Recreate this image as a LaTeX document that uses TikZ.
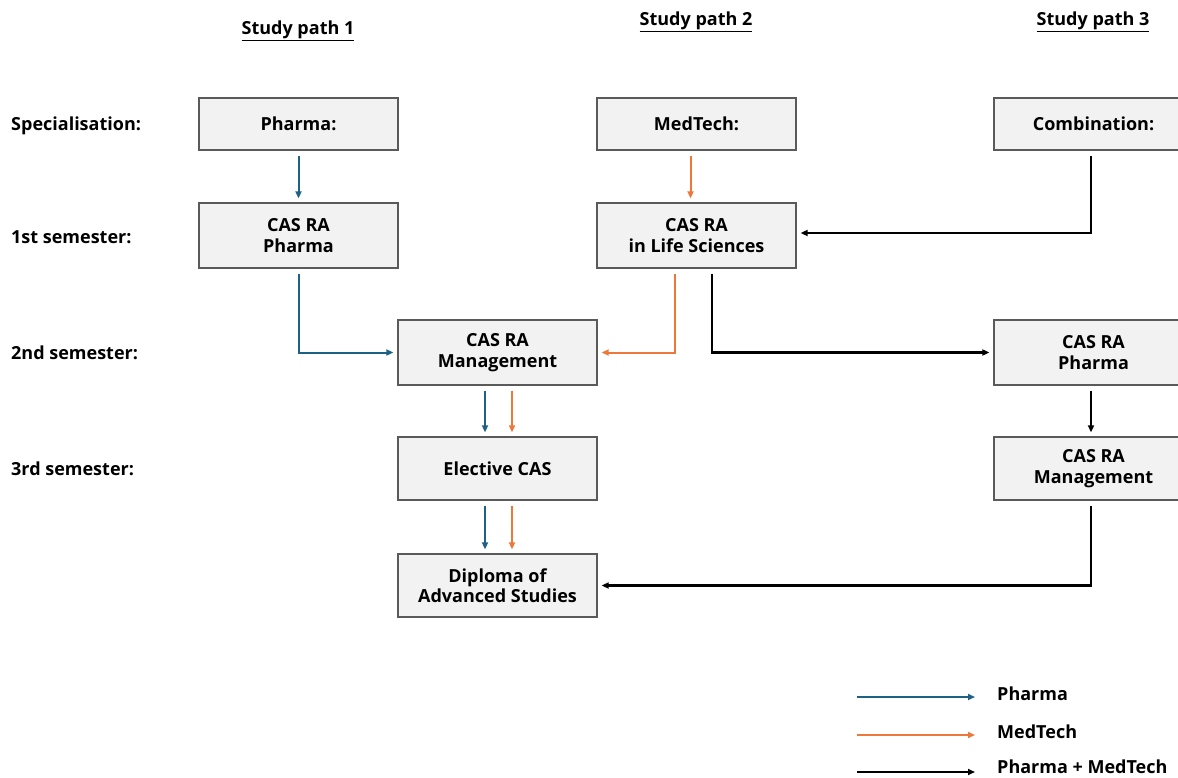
\documentclass[tikz,border=0pt]{standalone}
\usepackage{fontspec}
\setmainfont{Open Sans}
\usetikzlibrary{arrows.meta}
\definecolor{pblue}{HTML}{1D6285}
\definecolor{morange}{HTML}{EE773A}
\definecolor{boxfill}{HTML}{F2F2F2}
\definecolor{boxdraw}{HTML}{5A5A5A}
\begin{document}
\begin{tikzpicture}[x=1pt,y=-1pt,
  every node/.style={font=\bfseries\fontsize{18}{20.5}\selectfont, inner sep=0pt},
  stepbox/.style={draw=boxdraw, line width=1.3pt, fill=boxfill, minimum width=199pt, align=center},
  shortbox/.style={stepbox, minimum height=52pt},
  tallbox/.style={stepbox, minimum height=65pt},
  rowlabel/.style={anchor=west},
  header/.style={},
  conn/.style={line width=2pt, -{Triangle[length=7pt,width=6pt]}, shorten <=5pt, shorten >=4pt},
  pha/.style={conn, draw=pblue, -{Triangle[length=7pt,width=6pt,fill=pblue]}},
  med/.style={conn, draw=morange, -{Triangle[length=7pt,width=6pt,fill=morange]}},
  both/.style={conn, draw=black, line width=2.3pt}
]
\useasboundingbox (0,0) rectangle (1178,778);
\clip (0,0) rectangle (1178,778);
\fill[white] (0,0) rectangle (1178,778);

% headers
\node[header] (h1) at (298,31) {\underline{Study path 1}};
\node[header] (h2) at (696,22) {\underline{Study path 2}};
\node[header] (h3) at (1093,22) {\underline{Study path 3}};

% row labels
\node[rowlabel] (r0) at (11,126) {Specialisation:};
\node[rowlabel] (r1) at (11,237) {1st semester:};
\node[rowlabel] (r2) at (11,353) {2nd semester:};
\node[rowlabel] (r3) at (11,469) {3rd semester:};

% boxes
\node[shortbox] (pharma) at (298.5,124) {Pharma:};
\node[shortbox] (medtech) at (696.5,124) {MedTech:};
\node[shortbox] (comb) at (1093.5,124) {Combination:};

\node[tallbox] (casp) at (298.5,235.5) {CAS RA\\Pharma};
\node[tallbox] (lifesci) at (696.5,235.5) {CAS RA\\in Life Sciences};

\node[tallbox] (mgmt) at (497.5,352.5) {CAS RA\\Management};
\node[tallbox] (pharma3) at (1093.5,352.5) {CAS RA\\Pharma};

\node[stepbox, minimum height=63pt] (elective) at (497.5,468.5) {Elective CAS};
\node[stepbox, minimum height=63pt] (mgmt3) at (1093.5,468.5) {CAS RA\\Management};

\node[stepbox, minimum height=63pt] (diploma) at (497.5,585.5) {Diploma of\\Advanced Studies};

% connectors
\draw[pha] (pharma) -- (casp);
\draw[med] ([xshift=-6pt]medtech.south) -- ([xshift=-6pt]lifesci.north);
\draw[both] ([xshift=-2.5pt]comb.south) |- ([yshift=2.5pt]lifesci.east);

\draw[pha] (casp.south) |- (mgmt.west);
\draw[med] ([xshift=-21.5pt]lifesci.south) |- (mgmt.east);
\draw[both] ([xshift=15.5pt]lifesci.south) |- (pharma3.west);

\draw[pha] ([xshift=-12.5pt]mgmt.south) -- ([xshift=-12.5pt]elective.north);
\draw[med] ([xshift=14.5pt]mgmt.south) -- ([xshift=14.5pt]elective.north);
\draw[both] ([xshift=-2.5pt]pharma3.south) -- ([xshift=-2.5pt]mgmt3.north);

\draw[pha] ([xshift=-12.5pt]elective.south) -- ([xshift=-12.5pt]diploma.north);
\draw[med] ([xshift=14.5pt]elective.south) -- ([xshift=14.5pt]diploma.north);
\draw[both] ([xshift=-2.5pt]mgmt3.south) |- (diploma.east);

% legend
\coordinate (l1a) at (857,697); \coordinate (l1b) at (975,697);
\coordinate (l2a) at (857,735); \coordinate (l2b) at (975,735);
\coordinate (l3a) at (857,772); \coordinate (l3b) at (975,772);
\draw[pha, shorten <=0pt, shorten >=0pt] (l1a) -- (l1b);
\draw[med, shorten <=0pt, shorten >=0pt] (l2a) -- (l2b);
\draw[both, shorten <=0pt, shorten >=0pt] (l3a) -- (l3b);
\node[anchor=west] (t1) at (997,694) {Pharma};
\node[anchor=west] (t2) at (997,732) {MedTech};
\node[anchor=west] (t3) at (997,767) {Pharma + MedTech};
\end{tikzpicture}
\end{document}
